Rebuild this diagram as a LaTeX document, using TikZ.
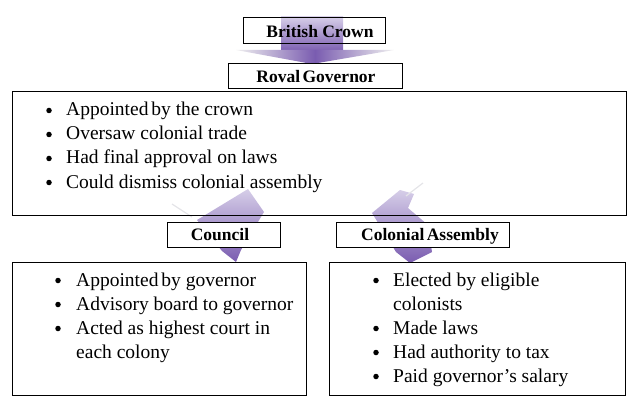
\documentclass[tikz,border=0pt]{standalone}
\usepackage{fontspec}
\setmainfont{Liberation Serif}
\definecolor{lavLight}{HTML}{D6CEE8}
\definecolor{lavDark}{HTML}{7A5CB0}
\definecolor{streak}{HTML}{E4E4E8}
\begin{document}
\begin{tikzpicture}[x=1pt,y=-1pt,
  box/.style={draw=black,line width=0.9pt},
  lbl/.style={font=\fontsize{17.5}{20}\selectfont\bfseries,anchor=base,inner sep=0pt},
  txt/.style={font=\fontsize{19.5}{24}\selectfont,anchor=base west,inner sep=0pt},
  bul/.style={circle,fill=black,inner sep=0pt,minimum size=5.5pt},
  purplearrow/.style={top color=lavLight,bottom color=lavDark,draw=none},
  streakline/.style={draw=streak,line width=1.2pt}
]
\useasboundingbox (0,0) rectangle (640,409);

% ---- arrows (drawn first) ----
\fill[top color=lavLight,bottom color=lavDark] (281,17) rectangle (343,52);
\shade[left color=gray!12,right color=gray!12,middle color=lavDark] (236,50) -- (394,50) -- (312,64) -- cycle;

\shade[purplearrow] (248,189) -- (264,212) -- (241,250) -- (236,262) -- (222,251) -- (197,220) -- cycle;
\draw[streakline] (172,204) -- (192,217);
\draw[streakline] (236,265) -- (252,268);

\shade[purplearrow] (400,190) -- (414,194) -- (408,208) -- (428,225) -- (432,252) -- (410,263) -- (396,252) -- (372,213) -- cycle;
\draw[streakline] (406,196) -- (423,183);

% ---- boxes ----
\node[box,minimum width=142pt,minimum height=26pt,inner sep=0pt] (crownbox) at (314,30) {};
\node[box,fill=white,minimum width=174pt,minimum height=25pt,inner sep=0pt] (govbox) at (315,75.5) {};
\node[box,minimum width=614pt,minimum height=124pt,inner sep=0pt] (mainbox) at (319,153) {};
\node[box,fill=white,minimum width=113pt,minimum height=25pt,inner sep=0pt] (councilbox) at (223.5,234.5) {};
\node[box,fill=white,minimum width=173pt,minimum height=25pt,inner sep=0pt] (assemblybox) at (422.5,234.5) {};
\node[box,fill=white,minimum width=294pt,minimum height=133pt,inner sep=0pt] (councillist) at (159,328.5) {};
\node[box,fill=white,minimum width=296pt,minimum height=133pt,inner sep=0pt] (assemblylist) at (477,328.5) {};

% ---- labels ----
\node[lbl] (crown) at (320,38) {British Crown};
\node[lbl] (gov) at (316,83) {Roval\hspace{-2pt} Governor};
\node[lbl] (council) at (220,240) {Council};
\node[lbl] (assembly) at (430,240) {Colonial\hspace{-2pt} Assembly};

% ---- governor bullets ----
\node[bul] (gb1) at (49,110.5) {};
\node[txt] (gt1) at (66,116) {Appointed\hspace{-2pt} by the crown};
\node[bul] (gb2) at (49,134.5) {};
\node[txt] (gt2) at (66,140) {Oversaw colonial trade};
\node[bul] (gb3) at (49,158.5) {};
\node[txt] (gt3) at (66,164) {Had final approval on laws};
\node[bul] (gb4) at (49,182.5) {};
\node[txt] (gt4) at (66,188) {Could dismiss colonial assembly};

% ---- council bullets ----
\node[bul] (cb1) at (58,280.5) {};
\node[txt] (ct1) at (76,286) {Appointed\hspace{-2pt} by governor};
\node[bul] (cb2) at (58,304.5) {};
\node[txt] (ct2) at (76,310) {Advisory board to governor};
\node[bul] (cb3) at (58,328.5) {};
\node[txt] (ct3) at (76,334) {Acted as highest court in};
\node[txt] (ct4) at (76,358) {each colony};

% ---- assembly bullets ----
\node[bul] (ab1) at (376,280.5) {};
\node[txt] (at1) at (393,286) {Elected by eligible};
\node[txt] (at2) at (393,310) {colonists};
\node[bul] (ab3) at (376,328.5) {};
\node[txt] (at3) at (393,334) {Made laws};
\node[bul] (ab4) at (376,352.5) {};
\node[txt] (at4) at (393,358) {Had authority to tax};
\node[bul] (ab5) at (376,376.5) {};
\node[txt] (at5) at (393,382) {Paid governor’s salary};
\end{tikzpicture}
\end{document}
